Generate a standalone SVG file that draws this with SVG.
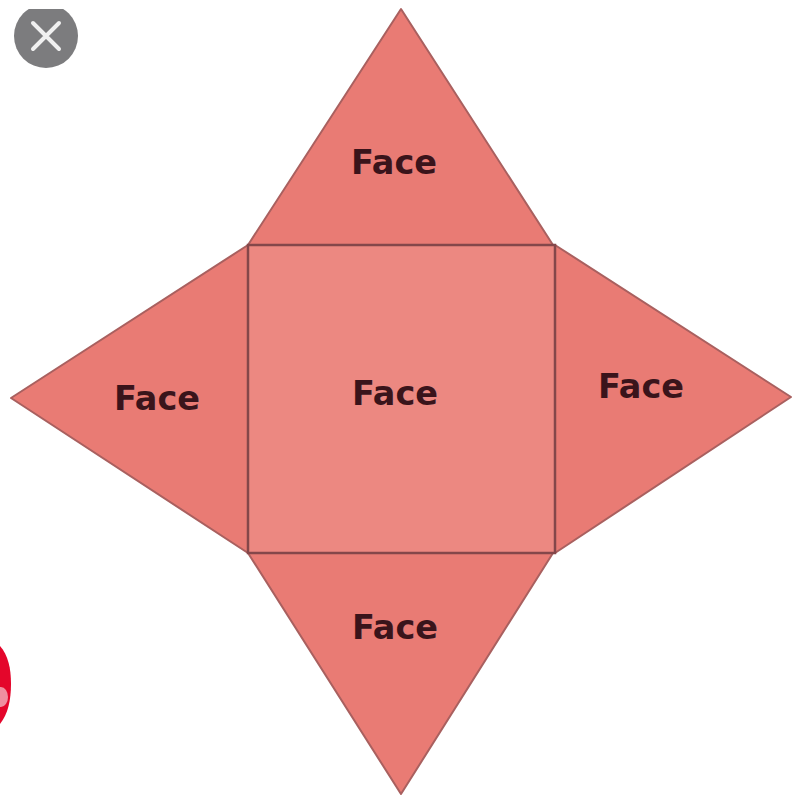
<svg xmlns="http://www.w3.org/2000/svg" width="792" height="796" viewBox="0 0 792 796">
<style>
.tri{fill:#e97b74;stroke:#a9605f;stroke-width:2;stroke-linejoin:round}
.sq{fill:#ec8881;stroke:#84474a;stroke-width:2.5}
.lbl{font-family:"DejaVu Sans",sans-serif;font-weight:700;font-size:33.5px;fill:#3a141b;text-anchor:middle}
</style>
<defs><clipPath id="top-cut"><rect x="0" y="9" width="110" height="70"/></clipPath></defs>
<rect width="792" height="796" fill="#fff"/>
<g id="close-button"><circle cx="46" cy="36" r="32" fill="#7c7c7e" clip-path="url(#top-cut)"/><path d="M33 23L59 49M59 23L33 49" stroke="#f0f0f0" stroke-width="4" stroke-linecap="round" fill="none"/></g>
<g id="red-badge"><path d="M0 646C8 655 11 668 11 684C11 700 8 714 0 724Z" fill="#e4062b"/><ellipse cx="1" cy="697" rx="7" ry="10" fill="#ef8fa0"/></g>
<g id="face-top"><polygon class="tri" points="401,9 553,245 248,245"/><text class="lbl" x="394" y="174">Face</text></g>
<g id="face-left"><polygon class="tri" points="11,398 248,245 248,553"/><text class="lbl" x="157" y="410">Face</text></g>
<g id="face-right"><polygon class="tri" points="791,397 555,245 555,553"/><text class="lbl" x="641" y="398">Face</text></g>
<g id="face-bottom"><polygon class="tri" points="401,794 553,553 248,553"/><text class="lbl" x="395" y="639">Face</text></g>
<g id="face-center"><rect class="sq" x="248" y="245" width="307" height="308"/><text class="lbl" x="395" y="405">Face</text></g>
</svg>
